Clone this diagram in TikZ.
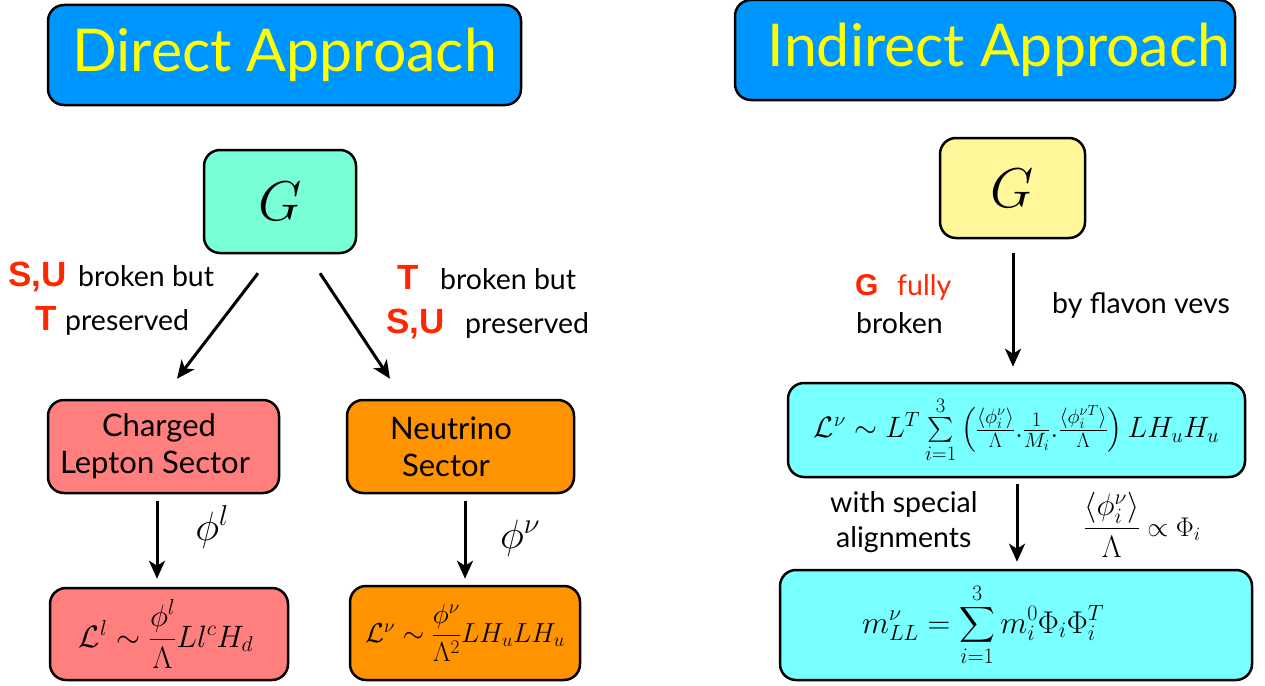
\RequirePackage{fix-cm}
\documentclass[tikz,border=0pt]{standalone}
\usepackage{amsmath}
\usepackage[no-math]{fontspec}
\setmainfont{Lato}
\newfontfamily\heavyfont{Liberation Sans}
\usetikzlibrary{arrows.meta,calc}
\definecolor{hdrblue}{RGB}{0,150,255}
\definecolor{hdryellow}{RGB}{255,255,0}
\definecolor{aqua}{RGB}{120,255,215}
\definecolor{lightyel}{RGB}{255,247,153}
\definecolor{salmon}{RGB}{255,127,127}
\definecolor{orng}{RGB}{255,147,0}
\definecolor{cyanbox}{RGB}{120,255,255}
\definecolor{redtxt}{RGB}{255,38,0}
\begin{document}
\begin{tikzpicture}[x=1pt,y=-1pt,
  box/.style={draw=black, line width=2.5pt, rounded corners=16pt, inner sep=0pt, align=center},
  hdr/.style={box, fill=hdrblue, text=hdryellow, font=\fontsize{59}{64}\selectfont},
  lbl/.style={inner sep=0pt, anchor=base west, font=\fontsize{28.5}{34}\selectfont},
  redlbl/.style={inner sep=0pt, anchor=base west, text=redtxt, font=\fontsize{35}{40}\selectfont\heavyfont\bfseries},
  arr/.style={line width=3pt, -{Stealth[length=18pt,width=16pt,inset=5pt]}},
  sect/.style={box, font=\fontsize{31}{37}\selectfont}
]
\useasboundingbox (0,0) rectangle (1265,685);
% headers
\node[hdr, minimum width=473pt, minimum height=100pt] (da) at (284.5,55) {Direct Approach};
\node[hdr, minimum width=500pt, minimum height=100pt] (ia) at (985,50) {\hspace*{28pt}Indirect Approach};
% G boxes
\node[box, fill=aqua, minimum width=152pt, minimum height=103pt, font=\fontsize{56}{60}\selectfont] (gl) at (280,201.5) {$G$};
\node[box, fill=lightyel, minimum width=145pt, minimum height=100pt, font=\fontsize{56}{60}\selectfont] (gr) at (1012.5,188) {$G$};
% sectors
\node[sect, fill=salmon, minimum width=231pt, minimum height=93pt] (cl) at (163.5,446.5) {Charged\hspace*{9pt}\\Lepton Sector\hspace*{17pt}};
\node[sect, fill=orng, minimum width=227pt, minimum height=93pt] (ns) at (460.5,446.5) {Neutrino\hspace*{19pt}\\Sector\hspace*{29pt}};
% lagrangians
\node[box, fill=salmon, minimum width=238pt, minimum height=92pt, font=\fontsize{31}{34}\selectfont] (ll) at (169,634) {$\mathcal{L}^l \sim \dfrac{\phi^l}{\Lambda} L l^c H_d$\hspace*{6pt}};
\node[box, fill=orng, minimum width=230pt, minimum height=94pt, font=\fontsize{27.5}{30}\selectfont] (lnu) at (465,633) {$\mathcal{L}^\nu \sim \dfrac{\phi^\nu}{\Lambda^2} L H_u L H_u$};
\node[box, fill=cyanbox, minimum width=457pt, minimum height=94pt, font=\fontsize{29.5}{32}\selectfont] (rl) at (1016.5,430) {$\mathcal{L}^\nu \sim L^T \sum\limits_{i=1}^{3}\left(\frac{\langle\phi_i^\nu\rangle}{\Lambda}.\frac{1}{M_i}.\frac{\langle\phi_i^{\nu T}\rangle}{\Lambda}\right) L H_u H_u$};
\node[box, fill=cyanbox, minimum width=472pt, minimum height=110pt, font=\fontsize{31.5}{36}\selectfont] (mll) at (1016,625) {$\displaystyle m^\nu_{LL} = \sum_{i=1}^{3} m_i^0 \Phi_i \Phi_i^T$\hspace*{66pt}};
% labels left
\node[redlbl] (l1a) at (8,286) {S,U};
\node[lbl] (l1b) at (78,286) {broken but};
\node[redlbl] (l2a) at (35,330) {T};
\node[lbl] (l2b) at (65,330) {preserved};
\node[redlbl] (r1a) at (397,289) {T};
\node[lbl] (r1b) at (440,289) {broken but};
\node[redlbl] (r2a) at (386,333) {S,U};
\node[lbl] (r2b) at (465,333) {preserved};
\node[inner sep=0pt, font=\fontsize{41}{45}\selectfont] (phil) at (212,527) {$\phi^l$};
\node[inner sep=0pt, font=\fontsize{41}{45}\selectfont] (phinu) at (520,538) {$\phi^\nu$};
% labels right
\node[redlbl, font=\fontsize{30}{34}\selectfont\heavyfont\bfseries] (g1a) at (855,295) {G};
\node[lbl, text=redtxt] (g1b) at (897,295) {fully};
\node[lbl] (g2) at (856,333) {broken};
\node[lbl] (fv) at (1052,313) {by flavon vevs};
\node[lbl] (ws) at (830,512) {with special};
\node[lbl] (al) at (836,547) {alignments};
\node[inner sep=0pt] (prop) at (1142,525) {{\fontsize{31}{36}\selectfont$\dfrac{\langle\phi_i^\nu\rangle}{\Lambda}$}\hspace{7pt}{\fontsize{27}{30}\selectfont$\propto \Phi_i$}};
% arrows
\draw[arr] ($(gl.south)+(-22,19)$) -- ($(cl.north)+(13.5,-20)$);
\draw[arr] ($(gl.south)+(40,19)$) -- ($(ns.north)+(-70.5,-20)$);
\draw[arr] ($(cl.south)+(-6.5,7)$) -- ($(ll.north)+(-12,-8)$);
\draw[arr] ($(ns.south)+(4.5,7)$) -- ($(lnu.north)+(0,-6)$);
\draw[arr] ($(gr.south)+(0.5,14)$) -- ($(rl.north)+(-3.5,-15)$);
\draw[arr] ($(rl.south)+(0.5,6)$) -- ($(mll.north)+(1,-7)$);
\end{tikzpicture}
\end{document}
